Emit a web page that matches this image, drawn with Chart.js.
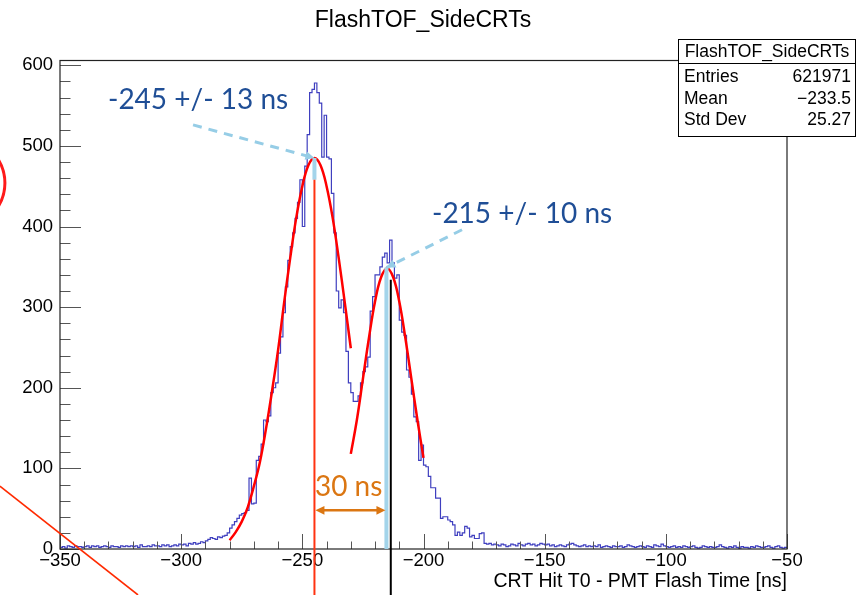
<!DOCTYPE html>
<html>
<head>
<meta charset="utf-8">
<title>FlashTOF_SideCRTs</title>
<script src="https://cdn.jsdelivr.net/npm/chart.js@4.4.1/dist/chart.umd.min.js"></script>
<style>
  html, body { margin: 0; padding: 0; background: #ffffff; }
  #wrap { width: 868px; height: 595px; }
</style>
</head>
<body>
<div id="wrap"><canvas id="tofChart" width="868" height="595"></canvas></div>
<script>
// histogram binning (1 ns bins from -350 to -50)
const binLow = -350;
const binWidth = 1;

// counts per bin
const countsLeftTail = [
  2, 3, 1, 4, 3, 2, 4, 3, 3, 2,
  3, 4, 2, 4, 3, 4, 2, 3, 4, 3,
  2, 4, 3, 3, 2, 4, 3, 4, 3, 4,
  3, 4, 2, 5, 3, 3, 4, 3, 5, 4,
  4, 3, 5, 4, 5, 3, 4, 5, 4, 6,
  5, 6, 4, 7, 6, 8, 6, 7, 9, 8
];
const countsRise = [
  10, 12, 14, 13, 12, 15, 14, 16, 17, 20,
  26, 30, 34, 38, 42, 44, 45, 48, 88, 56
];
const countsPeaks = [
  57, 110, 115, 130, 160, 158, 165, 194, 200, 206,
  243, 263, 293, 325, 358, 375, 392, 410, 430, 458,
  400, 475, 514, 566, 570, 578, 566, 553, 486, 538,
  486, 484, 441, 392, 320, 299, 309, 293, 245, 206,
  194, 183, 183, 190, 206, 220, 226, 238, 295, 313,
  340, 340, 350, 362, 367, 355, 383, 355, 336, 340,
  284, 269, 265, 222, 213, 192, 164, 158, 110, 129,
  104, 102, 90, 76, 76, 63, 63, 38, 40, 40,
  36, 34, 30, 17, 21, 17, 20, 28, 26, 15,
  17, 13, 13, 19, 20, 7, 6, 7, 5, 6
];
const countsRightTail = [
  5, 4, 6, 5, 3, 4, 6, 5, 4, 7,
  5, 4, 6, 7, 5, 6, 4, 5, 7, 6,
  5, 6, 4, 5, 3, 4, 5, 4, 3, 5,
  6, 7, 5, 4, 3, 4, 5, 3, 4, 3,
  4, 3, 5, 2, 3, 4, 3, 2, 4, 3,
  3, 4, 2, 3, 5, 4, 3, 2, 3, 4,
  3, 2, 4, 3, 2, 5, 4, 3, 6, 4,
  3, 2, 3, 4, 2, 3, 2, 4, 3, 2,
  3, 4, 2, 1, 2, 4, 3, 2, 3, 2,
  2, 3, 5, 3, 2, 1, 3, 2, 4, 2,
  1, 3, 2, 2, 1, 3, 2, 4, 3, 2,
  2, 3, 4, 2, 1, 3, 4, 2, 1, 2
];

// red fit curves
const fit1Time = [-280, -277.5, -275, -272.5, -270, -267.5, -265, -262.5, -260, -257.5, -255,
                  -252.5, -250, -247.5, -245, -242.5, -240, -237.5, -235, -232.5, -230];
const fit1Counts = [11, 21, 34, 52, 78, 108, 149, 196, 247, 306, 361,
                    411, 450, 476, 485, 476, 450, 411, 361, 306, 249];
const fit2Time = [-230, -227.5, -225, -222.5, -220, -217.5, -215, -212.5, -210, -207.5, -205, -202.5, -200];
const fit2Counts = [118, 160, 211, 262, 307, 337, 348, 337, 307, 262, 211, 160, 113];

// axes
const xTicks = [-350, -300, -250, -200, -150, -100, -50];
const yTicks = [0, 100, 200, 300, 400, 500, 600];
const yTop = 605.9;

// stats box
const statsTitle = 'FlashTOF_SideCRTs';
const statsRows = [['Entries', '621971'], ['Mean', '\u2212233.5'], ['Std Dev', '25.27']];

// slide annotations (data coordinates)
const peakLabels = ['-245 +/- 13 ns', '-215 +/- 10 ns'];
const peakTimes = [-245, -215.3];
const peakHeights = [485, 349];

const counts = [].concat(countsLeftTail, countsRise, countsPeaks, countsRightTail);
const histPoints = counts.map((c, i) => ({ x: binLow + i * binWidth, y: c }));
histPoints.push({ x: binLow + counts.length * binWidth, y: counts[counts.length - 1] });

const rootFont = '"Liberation Sans", Arial, Helvetica, sans-serif';
const slideFont = 'Lato, "Open Sans", sans-serif';
const minus = s => String(s).replace('-', '\u2212');

function arrowHead(ctx, x1, y1, x2, y2, size) {
    const a = Math.atan2(y2 - y1, x2 - x1);
    ctx.beginPath();
    ctx.moveTo(x2, y2);
    ctx.lineTo(x2 - size * Math.cos(a - 0.45), y2 - size * Math.sin(a - 0.45));
    ctx.lineTo(x2 - size * Math.cos(a + 0.45), y2 - size * Math.sin(a + 0.45));
    ctx.closePath();
    ctx.fill();
}

const rootFrame = {
    id: 'rootFrame',
    afterDatasetsDraw(chart) {
        const { ctx, chartArea: a } = chart;
        const xs = chart.scales.x, ys = chart.scales.y;
        ctx.save();
        // tick marks inside the frame
        ctx.strokeStyle = '#555555';
        ctx.lineWidth = 1;
        ctx.beginPath();
        for (let v = 0; v <= 600; v += 20) {
            const y = Math.round(ys.getPixelForValue(v)) + 0.5;
            const len = v % 100 === 0 ? 21 : 10.5;
            ctx.moveTo(a.left, y);
            ctx.lineTo(a.left + len, y);
        }
        for (let t = -350; t <= -50; t += 10) {
            const x = Math.round(xs.getPixelForValue(t)) + 0.5;
            const len = t % 50 === 0 ? 15 : 7.5;
            ctx.moveTo(x, a.bottom);
            ctx.lineTo(x, a.bottom - len);
        }
        ctx.stroke();
        // frame
        ctx.strokeStyle = '#222222';
        ctx.lineWidth = 1.2;
        ctx.strokeRect(a.left, a.top, a.right - a.left, a.bottom - a.top);
        ctx.restore();
    },
    afterDraw(chart) {
        const { ctx } = chart;
        const xs = chart.scales.x, ys = chart.scales.y;
        const px = v => xs.getPixelForValue(v);
        const py = v => ys.getPixelForValue(v);
        const H = chart.height;
        ctx.save();

        // histogram title
        ctx.fillStyle = '#000000';
        ctx.font = '23px ' + rootFont;
        ctx.textAlign = 'center';
        ctx.textBaseline = 'middle';
        ctx.fillText(statsTitle, 423, 21);

        // stats box
        ctx.fillStyle = '#ffffff';
        ctx.fillRect(678.5, 39.5, 177, 97);
        ctx.strokeStyle = '#000000';
        ctx.lineWidth = 1;
        ctx.strokeRect(678.5, 39.5, 177, 97);
        ctx.beginPath();
        ctx.moveTo(678.5, 63.5);
        ctx.lineTo(855.5, 63.5);
        ctx.stroke();
        ctx.fillStyle = '#000000';
        ctx.font = '17.5px ' + rootFont;
        ctx.fillText(statsTitle, 767, 52);
        statsRows.forEach((r, i) => {
            const y = 77 + i * 21.8;
            ctx.textAlign = 'left';
            ctx.fillText(r[0], 684, y);
            ctx.textAlign = 'right';
            ctx.fillText(r[1], 851, y);
        });

        // light blue marker at first peak, red line below it
        ctx.strokeStyle = '#a3d4ea';
        ctx.lineWidth = 4;
        ctx.beginPath();
        ctx.moveTo(px(peakTimes[0]), py(peakHeights[0]));
        ctx.lineTo(px(peakTimes[0]), py(458));
        ctx.stroke();
        ctx.strokeStyle = '#ff3311';
        ctx.lineWidth = 2;
        ctx.beginPath();
        ctx.moveTo(px(peakTimes[0]), py(458));
        ctx.lineTo(px(peakTimes[0]), H);
        ctx.stroke();

        // light blue line at second peak, black line next to it
        ctx.strokeStyle = '#a3d4ea';
        ctx.lineWidth = 4;
        ctx.beginPath();
        ctx.moveTo(px(peakTimes[1]), py(peakHeights[1]));
        ctx.lineTo(px(peakTimes[1]), py(0));
        ctx.stroke();
        ctx.strokeStyle = '#000000';
        ctx.lineWidth = 2;
        ctx.beginPath();
        ctx.moveTo(px(-213.5), py(334));
        ctx.lineTo(px(-213.5), H);
        ctx.stroke();

        // dashed arrows to the fit peaks
        const tails = [[-295.1, 526], [-184.1, 396]];
        ctx.strokeStyle = '#96cde6';
        ctx.fillStyle = '#96cde6';
        ctx.lineWidth = 3;
        tails.forEach((tl, i) => {
            const x1 = px(tl[0]), y1 = py(tl[1]);
            const x2 = px(peakTimes[i]), y2 = py(peakHeights[i]);
            ctx.setLineDash([9, 7]);
            ctx.beginPath();
            ctx.moveTo(x1, y1);
            ctx.lineTo(x2, y2);
            ctx.stroke();
            ctx.setLineDash([]);
            arrowHead(ctx, x1, y1, x2, y2, 10);
        });

        // peak labels
        ctx.fillStyle = '#1f4e96';
        ctx.font = '28px ' + slideFont;
        ctx.textAlign = 'left';
        ctx.textBaseline = 'middle';
        ctx.fillText(peakLabels[0], px(-330.2), py(557));
        ctx.fillText(peakLabels[1], px(-196.5), py(415));

        // 30 ns separation
        ctx.fillStyle = '#db7612';
        ctx.strokeStyle = '#db7612';
        ctx.fillText('30 ns', px(-244.8), py(77));
        const ay = py(48);
        const ax1 = px(peakTimes[0]) + 1, ax2 = px(peakTimes[1]) - 1;
        ctx.lineWidth = 2.5;
        ctx.beginPath();
        ctx.moveTo(ax1 + 6, ay);
        ctx.lineTo(ax2 - 6, ay);
        ctx.stroke();
        arrowHead(ctx, ax2 - 20, ay, ax2, ay, 10);
        arrowHead(ctx, ax1 + 20, ay, ax1, ay, 10);

        // red slide marks at the left edge
        ctx.strokeStyle = '#ff2a00';
        ctx.lineWidth = 1.6;
        ctx.beginPath();
        ctx.moveTo(px(-374.8), py(78));
        ctx.lineTo(px(-317.8), py(-57));
        ctx.stroke();
        ctx.strokeStyle = '#ff1a1a';
        ctx.lineWidth = 3;
        ctx.beginPath();
        ctx.arc(px(-391.3), py(454), 45, -0.6, 0.6);
        ctx.stroke();

        ctx.restore();
    }
};

new Chart(document.getElementById('tofChart'), {
    type: 'line',
    data: {
        datasets: [
            {
                label: 'fit1',
                data: fit1Time.map((t, i) => ({ x: t, y: fit1Counts[i] })),
                borderColor: '#ff0000',
                borderWidth: 2.5,
                pointRadius: 0,
                tension: 0.4,
                order: 1
            },
            {
                label: 'fit2',
                data: fit2Time.map((t, i) => ({ x: t, y: fit2Counts[i] })),
                borderColor: '#ff0000',
                borderWidth: 2.5,
                pointRadius: 0,
                tension: 0.4,
                order: 1
            },
            {
                label: 'FlashTOF_SideCRTs',
                data: histPoints,
                borderColor: '#3f3fbf',
                borderWidth: 1.2,
                pointRadius: 0,
                stepped: 'before',
                order: 2
            }
        ]
    },
    options: {
        responsive: false,
        animation: false,
        devicePixelRatio: 1,
        layout: { padding: { left: 0, top: 60.5, right: 81, bottom: 0 } },
        plugins: {
            legend: { display: false },
            tooltip: { enabled: false },
            title: { display: false }
        },
        scales: {
            x: {
                type: 'linear',
                min: -350,
                max: -50,
                afterFit: s => { s.height = 46; },
                afterBuildTicks: s => { s.ticks = xTicks.map(v => ({ value: v })); },
                grid: { display: false, drawTicks: false },
                border: { display: false },
                ticks: {
                    color: '#000000',
                    padding: 1,
                    maxRotation: 0,
                    font: { family: rootFont, size: 18.5 },
                    callback: v => minus(v)
                },
                title: {
                    display: true,
                    text: 'CRT Hit T0 - PMT Flash Time [ns]',
                    align: 'end',
                    color: '#000000',
                    padding: { top: 0, bottom: 2 },
                    font: { family: rootFont, size: 19.5 }
                }
            },
            y: {
                type: 'linear',
                min: 0,
                max: yTop,
                afterFit: s => { s.width = 60; },
                afterBuildTicks: s => { s.ticks = yTicks.map(v => ({ value: v })); },
                grid: { display: false, drawTicks: false },
                border: { display: false },
                ticks: {
                    color: '#000000',
                    padding: 7,
                    font: { family: rootFont, size: 18.5 }
                }
            }
        }
    },
    plugins: [rootFrame]
});
</script>
</body>
</html>
